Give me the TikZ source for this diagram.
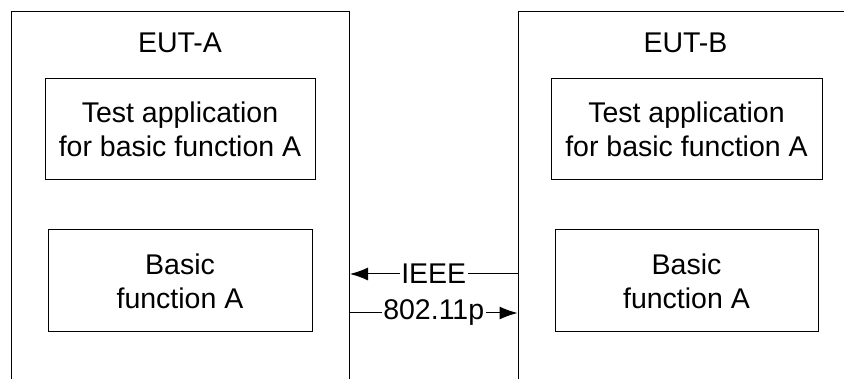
\documentclass[tikz,border=0pt]{standalone}
\usepackage{fontspec}
\setmainfont{Liberation Sans}
\usepackage{tikz}
\usetikzlibrary{arrows.meta,positioning}
\tikzstyle{eut}=[draw, line width=1pt, anchor=north west, inner sep=0pt]
\tikzstyle{bloc}=[draw, line width=1pt, align=center, inner sep=0pt,
font=\fontsize{28.5}{34}\selectfont]
\tikzstyle{titre}=[anchor=base, inner sep=0pt, font=\fontsize{28.5}{34}\selectfont]
\tikzstyle{line}=[draw, line width=1pt, -{Latex[length=18pt,width=13pt]}]
\tikzstyle{lbl}=[fill=white, inner sep=1.5pt, font=\fontsize{28.5}{34}\selectfont]

\begin{document}
\begin{tikzpicture}[x=1pt,y=-1pt]
	
	\useasboundingbox (0,0) rectangle (844,379);
	\clip (0,0) rectangle (844,379);
	
	% Draw the two EUT frames (open at the bottom)
	\node (eutA)[eut, minimum width=338pt, minimum height=420pt] at (11,11) {};
	\node (eutB)[eut, minimum width=360pt, minimum height=420pt] at (517.5,11) {};
	\node (tA)[titre] at (180,53) {EUT-A};
	\node (tB)[titre] at (685.5,53) {EUT-B};
	
	% Draw diagram elements
	\node (appA)[bloc, minimum width=270pt, minimum height=101pt] at (180,129.5) {Test application\\for basic function A};
	\node (fonA)[bloc, minimum width=264pt, minimum height=102pt] at (180,281) {Basic\\function A};
	\node (appB)[bloc, minimum width=271pt, minimum height=101pt] at (686.5,129.5) {Test application\\for basic function A};
	\node (fonB)[bloc, minimum width=263pt, minimum height=102pt] at (686.5,281) {Basic\\function A};
	
	% Draw arrows between the frames
	\coordinate (ieee) at (0,274);
	\coordinate (wave) at (0,313);
	\path [line] (eutB.west |- ieee) -- node [lbl]{IEEE} (eutA.east |- ieee);
	\path [line] (eutA.east |- wave) -- node [lbl]{802.11p} (eutB.west |- wave);
	
\end{tikzpicture}
\end{document}
